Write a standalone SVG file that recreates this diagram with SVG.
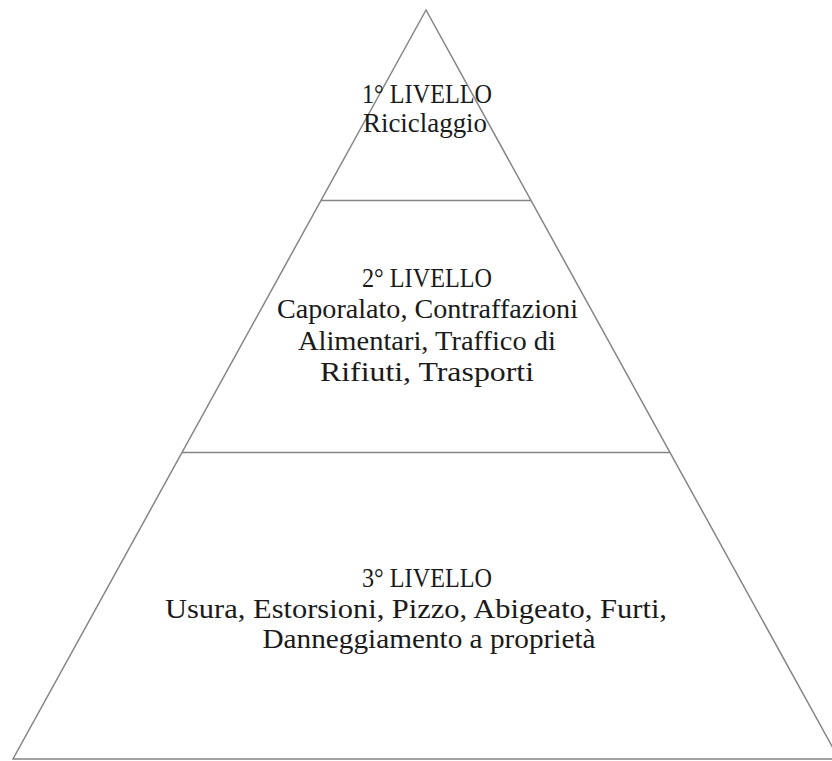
<svg xmlns="http://www.w3.org/2000/svg" width="832" height="761" viewBox="0 0 832 761">
<style>
.ln{stroke:#858585;stroke-width:1.5;fill:none;}
.t{font-family:"Liberation Serif","Times New Roman",serif;font-size:28px;fill:#1a1a1a;text-anchor:middle;}
</style>
<rect width="832" height="761" fill="#ffffff"/>
<g id="connectors">
<polygon class="ln" points="426,10 13,759 839,759"/>
<line class="ln" x1="321" y1="200.5" x2="531" y2="200.5"/>
<line class="ln" x1="182" y1="452.5" x2="670" y2="452.5"/>
</g>
<g id="level1">
<text class="t" x="427" y="103" textLength="130" lengthAdjust="spacingAndGlyphs">1° LIVELLO</text>
<text class="t" x="425" y="132" textLength="124" lengthAdjust="spacingAndGlyphs">Riciclaggio</text>
</g>
<g id="level2">
<text class="t" x="427" y="287" textLength="130" lengthAdjust="spacingAndGlyphs">2° LIVELLO</text>
<text class="t" x="427.5" y="318" textLength="301" lengthAdjust="spacingAndGlyphs">Caporalato, Contraffazioni</text>
<text class="t" x="427" y="350" textLength="258" lengthAdjust="spacingAndGlyphs">Alimentari, Traffico di</text>
<text class="t" x="427" y="381" textLength="214" lengthAdjust="spacingAndGlyphs">Rifiuti, Trasporti</text>
</g>
<g id="level3">
<text class="t" x="427" y="587" textLength="130" lengthAdjust="spacingAndGlyphs">3° LIVELLO</text>
<text class="t" x="416" y="618" textLength="502" lengthAdjust="spacingAndGlyphs">Usura, Estorsioni, Pizzo, Abigeato, Furti,</text>
<text class="t" x="429" y="648" textLength="333" lengthAdjust="spacingAndGlyphs">Danneggiamento a proprietà</text>
</g>
</svg>
